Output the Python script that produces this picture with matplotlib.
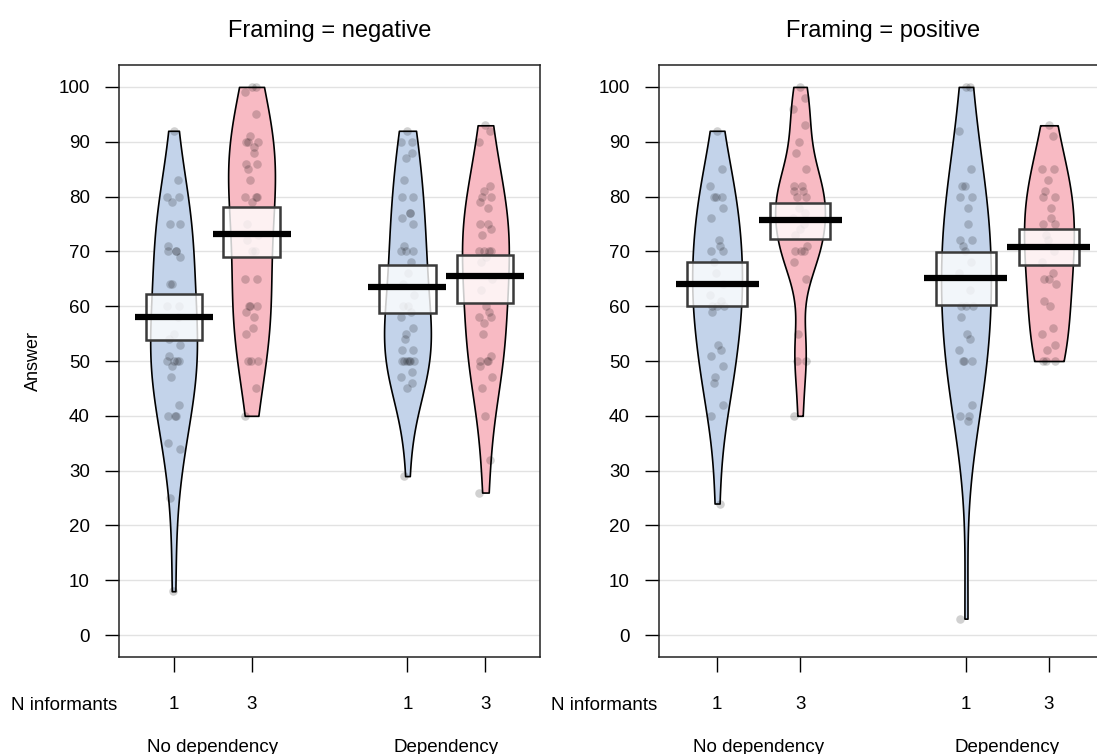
import numpy as np
import matplotlib.pyplot as plt
from matplotlib.patches import Rectangle

plt.rcParams['font.family'] = ['Liberation Sans', 'DejaVu Sans']

# group labels
dep_groups = ['No dependency', 'Dependency']
n_inf = ['1', '3']
positions = [1, 2, 4, 5]

neg_nodep_1 = [92, 83, 80, 80, 79, 75, 75, 71, 70, 70, 70, 69, 64, 64, 60, 60, 58, 55,
               54, 53, 51, 50, 50, 50, 50, 49, 47, 42, 40, 40, 40, 35, 34, 25, 8]
neg_nodep_3 = [100, 100, 99, 95, 91, 90, 90, 90, 89, 88, 86, 86, 85, 83, 80, 80, 80, 79,
               75, 73, 72, 70, 70, 65, 65, 60, 60, 60, 59, 58, 56, 55, 50, 50, 50, 45, 40]
neg_dep_1 = [92, 90, 90, 88, 87, 83, 80, 80, 77, 77, 76, 75, 71, 70, 70, 70, 68, 66, 64, 62,
             60, 60, 59, 58, 56, 55, 54, 52, 52, 50, 50, 50, 50, 50, 50, 48, 47, 46, 45, 29]
neg_dep_3 = [93, 92, 90, 82, 81, 80, 80, 79, 78, 75, 75, 74, 73, 70, 70, 70, 70, 69, 68,
             65, 63, 60, 59, 58, 58, 57, 55, 51, 50, 50, 50, 49, 47, 45, 40, 32, 26]

pos_nodep_1 = [92, 85, 82, 80, 80, 80, 78, 76, 72, 71, 70, 70, 68, 66, 64, 62, 61, 60, 60,
               60, 59, 53, 52, 51, 49, 47, 46, 42, 40, 24]
pos_nodep_3 = [100, 98, 96, 93, 90, 88, 85, 82, 82, 81, 81, 80, 80, 78, 77, 76, 75, 74, 73,
               71, 70, 70, 70, 68, 65, 55, 50, 50, 40]
pos_dep_1 = [100, 100, 92, 85, 82, 82, 80, 80, 78, 75, 72, 72, 71, 70, 68, 66, 63, 60, 60,
             60, 58, 55, 54, 52, 50, 50, 50, 42, 40, 40, 39, 3]
pos_dep_3 = [93, 91, 85, 85, 83, 81, 80, 80, 78, 76, 75, 75, 73, 72, 70, 68, 66, 65, 65,
             64, 61, 60, 56, 55, 53, 52, 50, 50, 50]

# means and interval bounds (boxes)
neg_means = [58.0, 73.1, 63.5, 65.5]
neg_lo = [53.9, 68.9, 58.8, 60.5]
neg_hi = [62.2, 78.1, 67.5, 69.3]
pos_means = [64.0, 75.7, 65.2, 70.8]
pos_lo = [60.1, 72.2, 60.3, 67.5]
pos_hi = [68.1, 78.8, 69.9, 74.0]

bean_cols = ['#c3d3ea', '#f8bac3', '#c3d3ea', '#f8bac3']


def bean(vals, adjust=1.3):
    v = np.asarray(vals, float)
    iqr = np.percentile(v, 75) - np.percentile(v, 25)
    bw = adjust * 0.9 * min(v.std(ddof=1), iqr / 1.34) * len(v) ** -0.2
    grid = np.linspace(v.min(), v.max(), 300)
    d = np.exp(-0.5 * ((grid[:, None] - v[None, :]) / bw) ** 2).sum(1)
    return grid, d / d.max()


def pirate(ax, groups, means, lo, hi, title):
    for k, vals in enumerate(groups):
        p = positions[k]
        grid, d = bean(vals)
        ax.fill_betweenx(grid, p - 0.3 * d, p + 0.3 * d, facecolor=bean_cols[k],
                         edgecolor='black', lw=1.2, zorder=2)
        jit = 0.08 * np.sin(np.arange(len(vals)) * 2.39996)
        ax.scatter(p + jit, vals, s=38, c='black', alpha=0.18, lw=0, zorder=3)
        ax.add_patch(Rectangle((p - 0.36, lo[k]), 0.72, hi[k] - lo[k], facecolor=(1, 1, 1, 0.8),
                               edgecolor='#3a3a3a', lw=1.8, zorder=4))
        ax.plot([p - 0.5, p + 0.5], [means[k], means[k]], color='black', lw=4.5,
                solid_capstyle='butt', zorder=5)

    ax.set_xlim(0.3, 5.7)
    ax.set_ylim(-4, 104)
    ax.set_yticks(range(0, 101, 10))
    ax.grid(axis='y', color='#e2e2e2', lw=1)
    ax.set_axisbelow(True)
    ax.set_xticks(positions)
    ax.set_xticklabels(n_inf * 2)
    ax.tick_params(axis='y', length=10, width=1, pad=11, labelsize=13.5)
    ax.tick_params(axis='x', length=11, width=1, pad=17, labelsize=13.5)
    for s in ax.spines.values():
        s.set_linewidth(1.1)
        s.set_color('#222222')
    ax.set_title(title, fontsize=17, pad=20)

    tr = ax.get_xaxis_transform()
    ax.text(-0.005, -0.082, 'N informants', transform=ax.transAxes, ha='right', va='center',
            fontsize=13.5)
    ax.text(1.5, -0.153, dep_groups[0], transform=tr, ha='center', va='center', fontsize=13.5)
    ax.text(4.5, -0.153, dep_groups[1], transform=tr, ha='center', va='center', fontsize=13.5)


fig = plt.figure(figsize=(10.97, 7.54), dpi=100)
ax1 = fig.add_axes([119 / 1097, 97 / 754, 421 / 1097, 592 / 754])
ax2 = fig.add_axes([659 / 1097, 97 / 754, 448 / 1097, 592 / 754])

pirate(ax1, [neg_nodep_1, neg_nodep_3, neg_dep_1, neg_dep_3], neg_means, neg_lo, neg_hi,
       'Framing = negative')
pirate(ax2, [pos_nodep_1, pos_nodep_3, pos_dep_1, pos_dep_3], pos_means, pos_lo, pos_hi,
       'Framing = positive')

fig.text(33 / 1097, 1 - 361 / 754, 'Answer', rotation=90, ha='center', va='center', fontsize=13)

fig.savefig('out.png', dpi=100)
